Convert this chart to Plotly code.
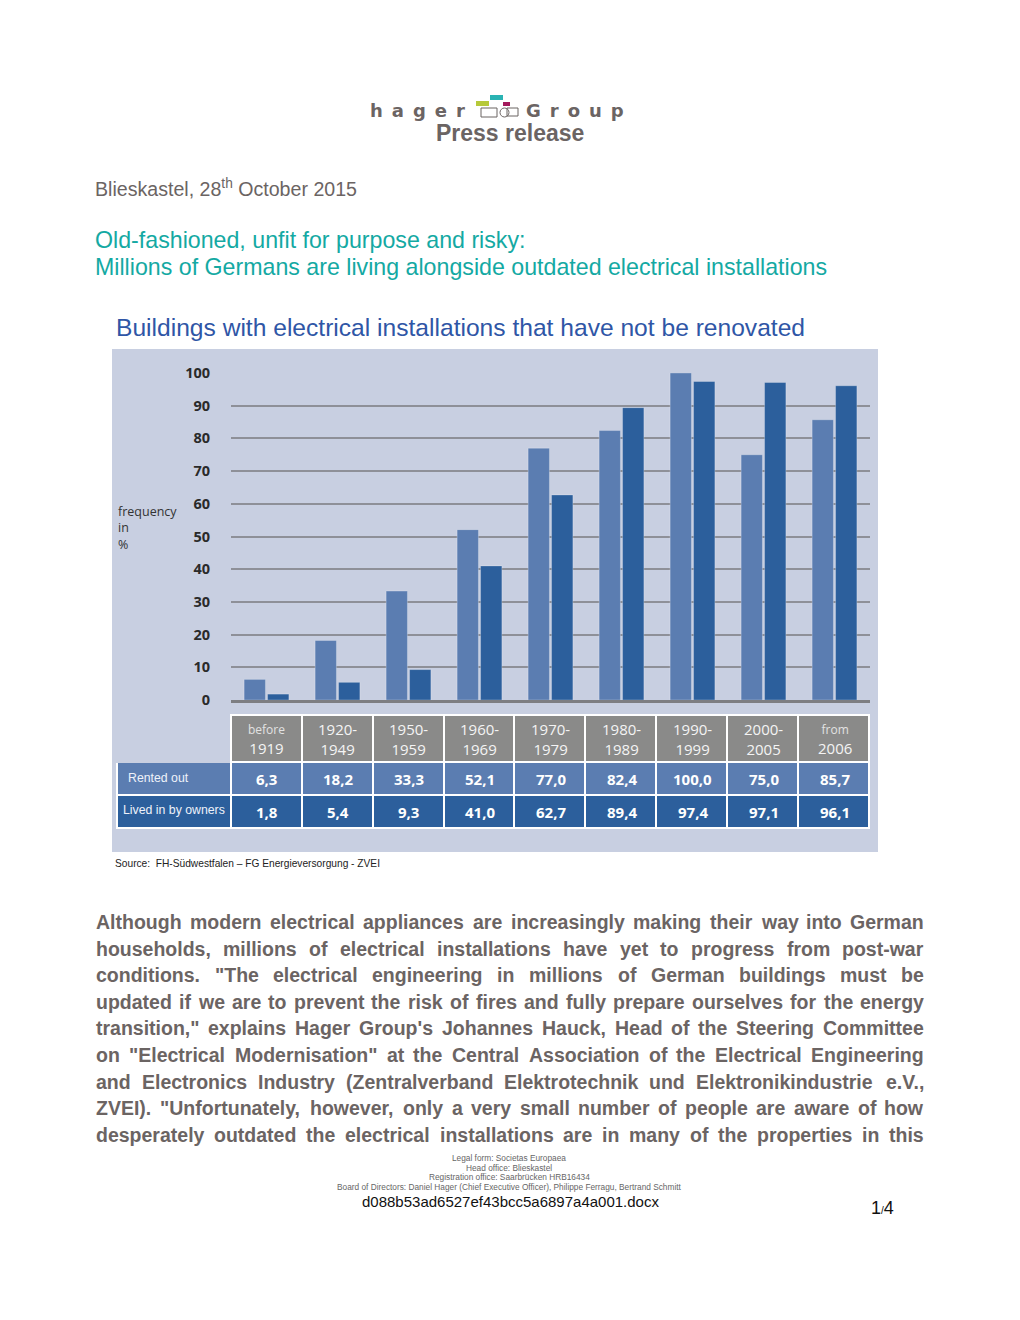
import plotly.graph_objects as go

# ---------------- data ----------------
categories = ["before 1919", "1920-1949", "1950-1959", "1960-1969", "1970-1979",
              "1980-1989", "1990-1999", "2000-2005", "from 2006"]
header_top = ["before", "1920-", "1950-", "1960-", "1970-", "1980-", "1990-", "2000-", "from"]
header_bottom = ["1919", "1949", "1959", "1969", "1979", "1989", "1999", "2005", "2006"]
rented_out = [6.3, 18.2, 33.3, 52.1, 77.0, 82.4, 100.0, 75.0, 85.7]
lived_by_owners = [1.8, 5.4, 9.3, 41.0, 62.7, 89.4, 97.4, 97.1, 96.1]
series_names = ["Rented out", "Lived in by owners"]
y_ticks = [0, 10, 20, 30, 40, 50, 60, 70, 80, 90, 100]

body_lines = [
    "Although modern electrical appliances are increasingly making their way into German",
    "households, millions of electrical installations have yet to progress from post-war",
    "conditions. \"The electrical engineering in millions of German buildings must be",
    "updated if we are to prevent the risk of fires and fully prepare ourselves for the energy",
    "transition,\" explains Hager Group's Johannes Hauck, Head of the Steering Committee",
    "on \"Electrical Modernisation\" at the Central Association of the Electrical Engineering",
    "and Electronics Industry (Zentralverband Elektrotechnik und Elektronikindustrie e.V.,",
    "ZVEI). \"Unfortunately, however, only a very small number of people are aware of how",
    "desperately outdated the electrical installations are in many of the properties in this",
]
footer_lines = [
    "Legal form: Societas Europaea",
    "Head office: Blieskastel",
    "Registration office: Saarbrücken HRB16434",
    "Board of Directors: Daniel Hager (Chief Executive Officer), Philippe Ferragu, Bertrand Schmitt",
]

# ---------------- styles ----------------
W, H = 1020, 1320
PANEL = "#c8cfe1"
C_RENT = "#5b7db1"
C_OWN = "#2c5f9c"
HEAD_GRAY = "#8a8a89"
TEXT_GRAY = "#6b6463"
TEAL = "#14a9a3"
TITLE_BLUE = "#2f56a6"


def px(x):
    return x / W


def py(y):
    return 1 - y / H


def fmt(v):
    return f"{v:.1f}".replace(".", ",")


fig = go.Figure()

fig.add_trace(go.Bar(x=categories, y=rented_out, name=series_names[0],
                     marker=dict(color=C_RENT, line=dict(color="rgba(255,255,255,0.25)", width=1))))
fig.add_trace(go.Bar(x=categories, y=lived_by_owners, name=series_names[1],
                     marker=dict(color=C_OWN, line=dict(color="rgba(255,255,255,0.25)", width=1))))

# table grid (cell fills and borders) below the bars; texts placed on the category axis
ncol = len(categories) + 1
fig.add_trace(go.Table(
    domain=dict(x=[px(117), px(870)], y=[py(829), py(715)]),
    columnwidth=[114] + [71] * len(categories),
    header=dict(values=[[""]] * ncol,
                fill=dict(color=[PANEL] + [HEAD_GRAY] * len(categories)),
                line=dict(color=[PANEL] + ["white"] * len(categories), width=2),
                font=dict(size=8, color=HEAD_GRAY), height=47),
    cells=dict(values=[["", ""]] * ncol,
               fill=dict(color=[[C_RENT, C_OWN]]),
               line=dict(color="white", width=2),
               font=dict(size=8, color="white"), height=33),
))

# ---------------- layout ----------------
shapes = [
    dict(type="rect", xref="paper", yref="paper", x0=px(112), x1=px(878), y0=py(852), y1=py(349),
         fillcolor=PANEL, line=dict(width=0), layer="below"),
    # logo pictogram
    dict(type="rect", xref="paper", yref="paper", x0=px(490), x1=px(503), y0=py(100), y1=py(95),
         fillcolor="#2ab3b3", line=dict(width=0)),
    dict(type="rect", xref="paper", yref="paper", x0=px(476), x1=px(489), y0=py(106), y1=py(101),
         fillcolor="#b6c93a", line=dict(width=0)),
    dict(type="rect", xref="paper", yref="paper", x0=px(503), x1=px(510), y0=py(106), y1=py(102),
         fillcolor="#a3195b", line=dict(width=0)),
    dict(type="rect", xref="paper", yref="paper", x0=px(481), x1=px(497), y0=py(117), y1=py(108),
         fillcolor="rgba(0,0,0,0)", line=dict(color=TEXT_GRAY, width=1)),
    dict(type="circle", xref="paper", yref="paper", x0=px(500), x1=px(509), y0=py(117), y1=py(108),
         fillcolor="rgba(0,0,0,0)", line=dict(color=TEXT_GRAY, width=1)),
    dict(type="rect", xref="paper", yref="paper", x0=px(507), x1=px(518), y0=py(116), y1=py(108),
         fillcolor="rgba(0,0,0,0)", line=dict(color=TEXT_GRAY, width=1)),
]

ann = []


def add_text(x, y, text, size, color, family="Liberation Sans", xanchor="left", yanchor="middle",
             xref="paper"):
    ann.append(dict(x=(px(x) if xref == "paper" else x), y=py(y), xref=xref, yref="paper", text=text,
                    showarrow=False, xanchor=xanchor, yanchor=yanchor,
                    align=xanchor if xanchor != "center" else "center",
                    borderpad=0, borderwidth=0,
                    font=dict(family=family, size=size, color=color)))


sp = "\u2002"
add_text(417, 110, "<b>" + sp.join("hager") + "</b>", 18, TEXT_GRAY, family="DejaVu Sans", xanchor="center")
add_text(575, 110, "<b>" + sp.join("Group") + "</b>", 18, TEXT_GRAY, family="DejaVu Sans", xanchor="center")
add_text(510, 133, "<b>Press release</b>", 23, TEXT_GRAY, xanchor="center")
add_text(95, 188, "Blieskastel, 28<sup>th</sup> October 2015", 19.6, TEXT_GRAY)
add_text(95, 240, "Old-fashioned, unfit for purpose and risky:", 23.2, TEAL)
add_text(95, 267, "Millions of Germans are living alongside outdated electrical installations", 23.2, TEAL)
add_text(116, 327, "Buildings with electrical installations that have not be renovated", 24.6, TITLE_BLUE)
add_text(118, 528, "frequency<br>in<br>%", 12.5, "#333333", family="Open Sans")
add_text(115, 863, "Source:  FH-Südwestfalen – FG Energieversorgung - ZVEI", 10.2, "#222222")

# table texts, positioned on the category axis
for cat, t, b, r, o in zip(categories, header_top, header_bottom, rented_out, lived_by_owners):
    if t in ("before", "from"):
        txt = f"<span style='font-size:12px;color:#e2e2e2'>{t}</span><br>{b}"
    else:
        txt = f"{t}<br>{b}"
    add_text(cat, 739, txt, 15, "#f4f4f4", family="Open Sans", xanchor="center", xref="x")
    add_text(cat, 779, f"<b>{fmt(r)}</b>", 15, "white", family="Open Sans", xanchor="center", xref="x")
    add_text(cat, 812, f"<b>{fmt(o)}</b>", 15, "white", family="Open Sans", xanchor="center", xref="x")
add_text(128, 778, series_names[0], 12.3, "#eef2fa", family="Liberation Sans")
add_text(123, 810, series_names[1], 12.3, "#eef2fa", family="Liberation Sans")

# body paragraph: justified word placement using Arial Bold metrics
AW = {
    'a': 556, 'b': 611, 'c': 556, 'd': 611, 'e': 556, 'f': 333, 'g': 611, 'h': 611, 'i': 278, 'j': 278,
    'k': 556, 'l': 278, 'm': 889, 'n': 611, 'o': 611, 'p': 611, 'q': 611, 'r': 389, 's': 556, 't': 333,
    'u': 611, 'v': 556, 'w': 778, 'x': 556, 'y': 556, 'z': 500,
    'A': 722, 'B': 722, 'C': 722, 'D': 722, 'E': 667, 'F': 611, 'G': 778, 'H': 722, 'I': 278, 'J': 556,
    'K': 722, 'L': 611, 'M': 833, 'N': 722, 'O': 778, 'P': 667, 'Q': 778, 'R': 722, 'S': 667, 'T': 611,
    'U': 722, 'V': 667, 'W': 944, 'X': 667, 'Y': 667, 'Z': 611,
    ' ': 278, '.': 278, ',': 278, '"': 474, "'": 238, '(': 333, ')': 333, '-': 333, ':': 333,
}


def units(s):
    return sum(AW.get(ch, 556) for ch in s)


LEFT, RIGHT = 96, 924
fs = min((RIGHT - LEFT) * 1000 / units(l) for l in body_lines)
fs = min(fs, 19.5)
for i, line in enumerate(body_lines):
    yy = 922 + i * 26.6
    words = line.split(" ")
    ww = [units(w) * fs / 1000 for w in words]
    gap = (RIGHT - LEFT - sum(ww)) / (len(words) - 1)
    x = LEFT
    for j, (w, wd) in enumerate(zip(words, ww)):
        t = "<b>" + w + "</b>"
        if j == len(words) - 1:
            add_text(RIGHT, yy, t, fs, TEXT_GRAY, xanchor="right")
        else:
            add_text(x, yy, t, fs, TEXT_GRAY)
        x += wd + gap

for i, fl in enumerate(footer_lines):
    add_text(509, 1158 + i * 9.7, fl, 8.3, "#666666", xanchor="center")
add_text(510, 1201, "d088b53ad6527ef43bcc5a6897a4a001.docx", 15, "#111111", xanchor="center")
add_text(882, 1208, "1<span style='font-size:10px'>/</span>4", 18, "#111111", xanchor="center")

fig.update_layout(
    width=W, height=H, margin=dict(l=0, r=0, t=0, b=0, autoexpand=False),
    paper_bgcolor="white", plot_bgcolor="rgba(0,0,0,0)",
    showlegend=False, barmode="group", bargap=0.34, bargroupgap=0.09,
    shapes=shapes, annotations=ann,
    xaxis=dict(domain=[px(231), px(870)], showticklabels=False, showgrid=False, zeroline=False,
               showline=True, linecolor="#7d7e82", linewidth=3, ticks=""),
    yaxis=dict(domain=[py(700), py(373)], range=[0, 100], tickvals=y_ticks,
               showgrid=True, gridcolor="#8e9098", gridwidth=2, zeroline=False, showline=False,
               ticks="", ticklabelstandoff=20,
               tickfont=dict(family="Open Sans", size=14.5, color="#2a2a2a", weight="bold")),
)

fig.write_html("out.html", config={"displayModeBar": False},
               post_script="document.body.style.margin='0px';")
